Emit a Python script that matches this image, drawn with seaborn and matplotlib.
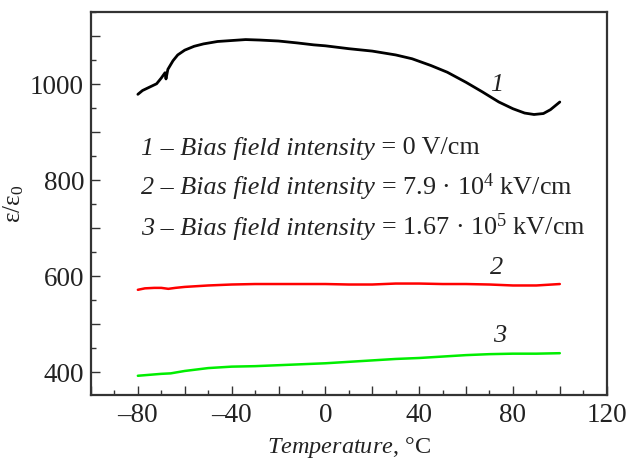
import matplotlib
matplotlib.use("Agg")
import matplotlib.pyplot as plt
import seaborn as sns
import pandas as pd
from matplotlib.ticker import MultipleLocator, FuncFormatter

# ---- data ----
t1 = [-80, -78, -75, -72, -70, -68.4, -68.0, -67.2, -65, -63, -60, -56, -52, -46, -40, -34,
      -28, -20, -12, -5, 0, 10, 20, 30, 37, 45, 52, 60, 67, 74, 80, 85, 89, 93, 96, 100]
e1 = [978, 986, 993, 1000, 1012, 1023, 1010, 1030, 1048, 1060, 1070, 1078, 1083, 1088, 1090, 1092,
      1091, 1089, 1085, 1081, 1079, 1073, 1068, 1060, 1052, 1038, 1024, 1003, 983, 962, 948, 939,
      936, 938, 946, 962]

t2 = [-80, -77, -73, -70, -67, -64, -60, -50, -40, -30, -20, -10, 0, 10, 20, 30, 40, 50, 60, 70,
      80, 90, 100]
e2 = [571, 574, 575, 575, 573, 575, 577, 580, 582, 583, 583, 583, 583, 582, 582, 584, 584, 583,
      583, 582, 580, 580, 583]

t3 = [-80, -75, -70, -66, -60, -55, -50, -40, -30, -20, -10, 0, 10, 20, 30, 40, 50, 60, 70, 80,
      90, 100]
e3 = [392, 394, 396, 397, 402, 405, 408, 411, 412, 414, 416, 418, 421, 424, 427, 429, 432, 435,
      437, 438, 438, 439]

curve_labels = ["1", "2", "3"]
legend_italic = ["1 – Bias field intensity", "2 – Bias field intensity", "3 – Bias field intensity"]
legend_value = [" = 0 V/cm", r" = 7.9 · 10$^4$ kV/cm", r" = 1.67 · 10$^5$ kV/cm"]
xticks = [-80, -40, 0, 40, 80, 120]
yticks = [400, 600, 800, 1000]

sns.set_style("ticks")
plt.rcParams["font.family"] = ["Liberation Serif", "DejaVu Serif"]
plt.rcParams["mathtext.fontset"] = "custom"
plt.rcParams["mathtext.rm"] = "Liberation Serif"
plt.rcParams["mathtext.it"] = "Liberation Serif:italic"
plt.rcParams["mathtext.bf"] = "Liberation Serif:bold"

txt = "#222222"
fig = plt.figure(figsize=(6.27, 4.64), dpi=100)
ax = fig.add_axes([0.1451, 0.1466, 0.8225, 0.826])

df1 = pd.DataFrame({"T": t1, "e": e1})
df2 = pd.DataFrame({"T": t2, "e": e2})
df3 = pd.DataFrame({"T": t3, "e": e3})
sns.lineplot(data=df1, x="T", y="e", color="black", lw=2.0, sort=False, estimator=None, ax=ax)
sns.lineplot(data=df2, x="T", y="e", color="#ff0000", lw=1.8, sort=False, estimator=None, ax=ax)
sns.lineplot(data=df3, x="T", y="e", color="#00ee00", lw=1.8, sort=False, estimator=None, ax=ax)

ax.set_xlim(-100, 120)
ax.set_ylim(352, 1150)

ax.xaxis.set_major_locator(MultipleLocator(20))
ax.xaxis.set_minor_locator(MultipleLocator(10))
ax.yaxis.set_major_locator(MultipleLocator(100))
ax.yaxis.set_minor_locator(MultipleLocator(50))

def xfmt(v, p):
    iv = int(round(v))
    if iv in xticks:
        return ("–%d" % abs(iv)) if iv < 0 else "%d" % iv
    return ""

def yfmt(v, p):
    iv = int(round(v))
    return "%d" % iv if iv in yticks else ""

ax.xaxis.set_major_formatter(FuncFormatter(xfmt))
ax.yaxis.set_major_formatter(FuncFormatter(yfmt))

ax.tick_params(which="major", direction="in", length=6.5, width=1.0, color="#333333",
               labelsize=19.5, labelcolor=txt, pad=5)
ax.tick_params(which="minor", direction="in", length=3.6, width=1.0, color="#333333")
ax.tick_params(top=False, right=False, which="both")
for s in ax.spines.values():
    s.set_linewidth(1.6)
    s.set_color("#333333")

ax.set_xlabel(r"$\mathit{Temperature}$, °C", fontsize=17.5, color=txt, labelpad=5)
ax.set_ylabel(r"ε/ε$_0$", fontsize=18, color=txt, labelpad=3)

# curve labels
ax.text(73, 1000, curve_labels[0], fontsize=19, style="italic", color=txt, ha="center", va="center")
ax.text(73, 618, curve_labels[1], fontsize=19, style="italic", color=txt, ha="center", va="center")
ax.text(74.4, 476, curve_labels[2], fontsize=19, style="italic", color=txt, ha="center", va="center")

for i in range(3):
    t_it = fig.text(141 / 627, 1 - (148 + 40 * i) / 464, legend_italic[i], fontsize=18.8,
                    style="italic", color=txt, ha="left", va="center")
    ax.annotate(legend_value[i], xy=(1, 0), xycoords=t_it, fontsize=18.8, color=txt,
                ha="left", va="bottom", annotation_clip=False)

fig.savefig("out.png", dpi=100)
